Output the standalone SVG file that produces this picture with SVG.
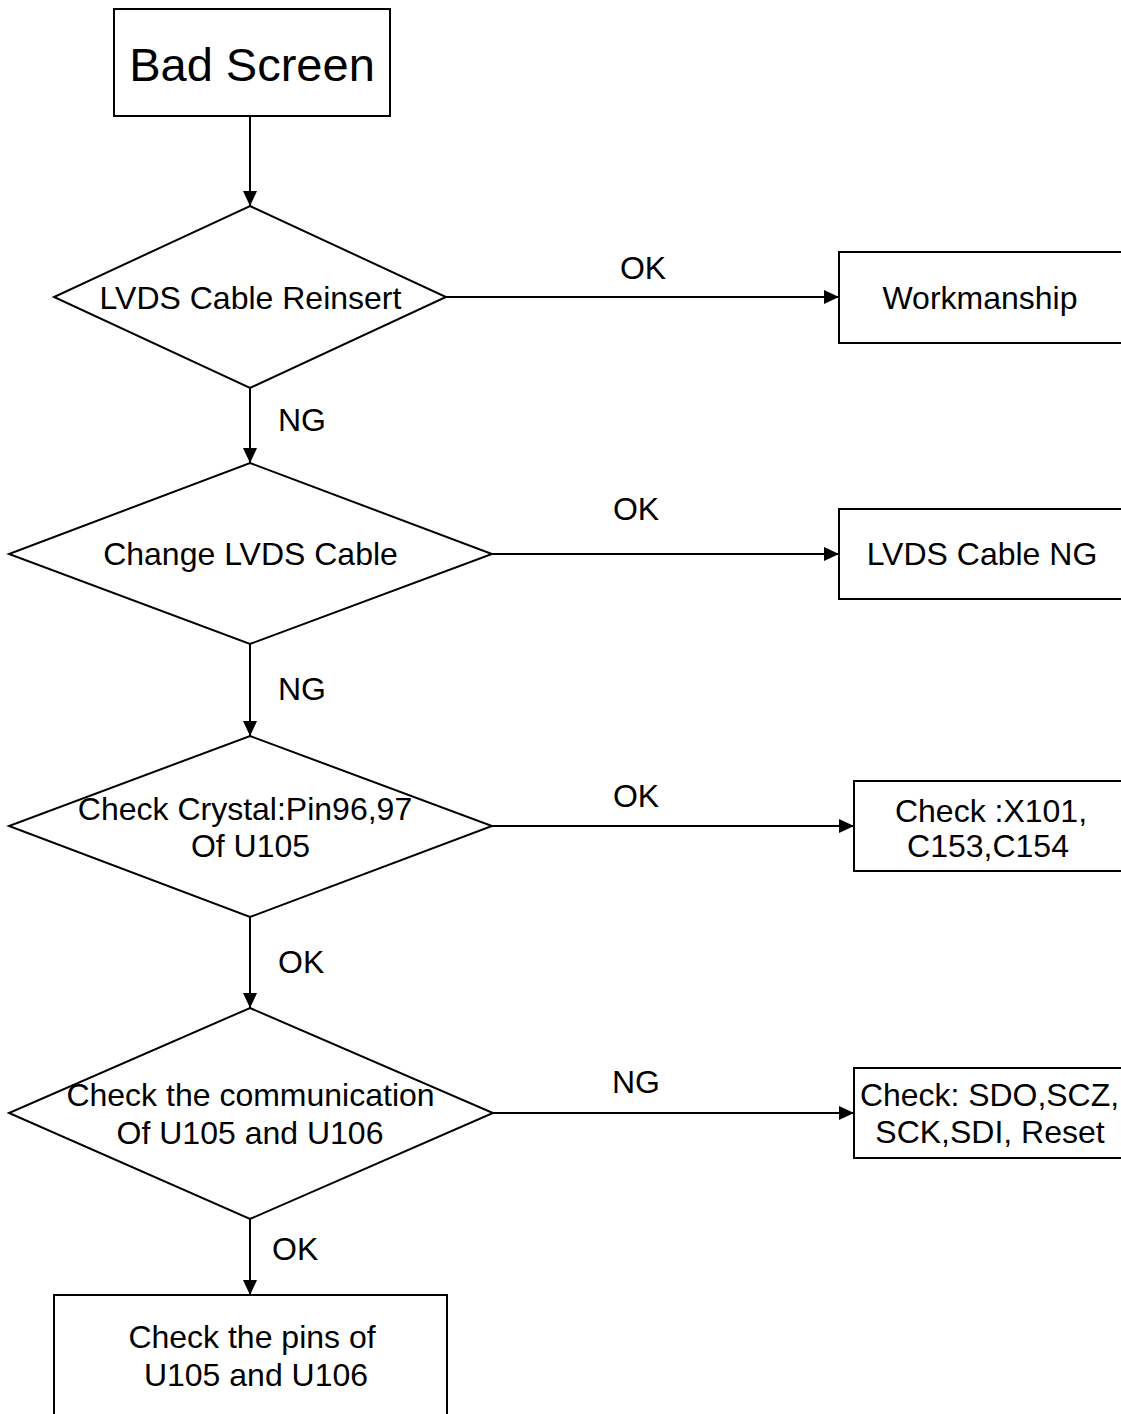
<svg xmlns="http://www.w3.org/2000/svg" width="1121" height="1414" viewBox="0 0 1121 1414">
<style>
text{font-family:"Liberation Sans",Arial,Helvetica,sans-serif;font-size:32px;fill:#000}
.c{text-anchor:middle}
.s{fill:#fff;stroke:#000;stroke-width:2}
.ln{fill:none;stroke:#000;stroke-width:2;marker-end:url(#arr)}
</style>
<defs>
<marker id="arr" markerWidth="15" markerHeight="14" refX="15" refY="7" orient="auto" markerUnits="userSpaceOnUse">
<path d="M0,0 L15,7 L0,14 z" fill="#000"/>
</marker>
</defs>
<rect width="1121" height="1414" fill="#fff"/>
<g id="connectors">
<path class="ln" d="M250,116 V206"/>
<path class="ln" d="M446,297 H839"/>
<path class="ln" d="M250,388 V463"/>
<path class="ln" d="M492,554 H839"/>
<path class="ln" d="M250,644 V736"/>
<path class="ln" d="M492,826 H854"/>
<path class="ln" d="M250,917 V1008"/>
<path class="ln" d="M493,1113 H854"/>
<path class="ln" d="M250,1219 V1295"/>
<text x="643" y="279" class="c">OK</text>
<text x="278" y="431">NG</text>
<text x="636" y="520" class="c">OK</text>
<text x="278" y="700">NG</text>
<text x="636" y="807" class="c">OK</text>
<text x="278" y="973">OK</text>
<text x="636" y="1093" class="c">NG</text>
<text x="272" y="1260">OK</text>
</g>
<g id="bad-screen">
<rect class="s" x="114" y="9" width="276" height="107"/>
<text x="252" y="81" class="c" style="font-size:47px">Bad Screen</text>
</g>
<g id="lvds-reinsert">
<polygon class="s" points="250,206 446,297 250,388 54,297"/>
<text x="250.5" y="309" class="c">LVDS Cable Reinsert</text>
</g>
<g id="workmanship">
<rect class="s" x="839" y="252" width="290" height="91"/>
<text x="980" y="309" class="c">Workmanship</text>
</g>
<g id="change-lvds">
<polygon class="s" points="250,463 492,554 250,644 9,554"/>
<text x="250.5" y="565" class="c">Change LVDS Cable</text>
</g>
<g id="lvds-ng">
<rect class="s" x="839" y="509" width="290" height="90"/>
<text x="982" y="565" class="c">LVDS Cable NG</text>
</g>
<g id="check-crystal">
<polygon class="s" points="250,736 492,826 250,917 9,826"/>
<text x="245" y="820" class="c">Check Crystal:Pin96,97</text>
<text x="250.5" y="857" class="c">Of U105</text>
</g>
<g id="check-x101">
<rect class="s" x="854" y="781" width="280" height="90"/>
<text x="991" y="822" class="c">Check :X101,</text>
<text x="988" y="857" class="c">C153,C154</text>
</g>
<g id="check-communication">
<polygon class="s" points="250,1008 493,1113 250,1219 9,1113"/>
<text x="250.5" y="1106" class="c">Check the communication</text>
<text x="250" y="1144" class="c">Of U105 and U106</text>
</g>
<g id="check-sdo">
<rect class="s" x="854" y="1068" width="280" height="90"/>
<text x="989.5" y="1106" class="c" textLength="259" lengthAdjust="spacingAndGlyphs">Check: SDO,SCZ,</text>
<text x="990" y="1143" class="c">SCK,SDI, Reset</text>
</g>
<g id="check-pins">
<rect class="s" x="54" y="1295" width="393" height="140"/>
<text x="252" y="1348" class="c">Check the pins of</text>
<text x="256" y="1386" class="c">U105 and U106</text>
</g>
</svg>
